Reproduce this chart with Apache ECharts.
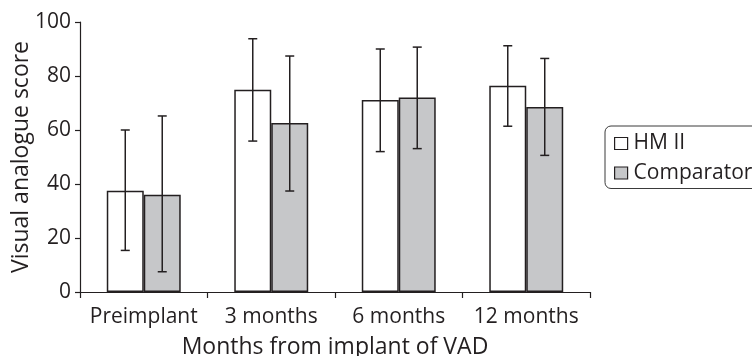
<!DOCTYPE html>
<html>
<head>
<meta charset="utf-8">
<script src="https://cdn.jsdelivr.net/npm/echarts@6/dist/echarts.min.js"></script>
<style>html,body{margin:0;padding:0;background:#fff;}#c{width:752px;height:356px;}</style>
</head>
<body>
<div id="c"></div>
<script>
var categories = ['Preimplant', '3 months', '6 months', '12 months'];
var hmValues = [37.5, 74.9, 71.1, 76.4];
var hmLow = [15.4, 55.9, 52.0, 61.4];
var hmHigh = [60.0, 93.8, 90.0, 91.2];
var compValues = [36.0, 62.6, 72.0, 68.5];
var compLow = [7.5, 37.4, 53.1, 50.6];
var compHigh = [65.2, 87.4, 90.7, 86.5];
var yTicks = [0, 20, 40, 60, 80, 100];

var FONT = '"Open Sans", sans-serif';
var TXT = '#231f20';
var BAR_FRAC = 0.29;

function errSeries(low, high, side) {
  var data = low.map(function (l, i) { return [i, l, high[i]]; });
  return {
    type: 'custom',
    silent: true,
    z: 5,
    data: data,
    encode: { x: 0, y: [1, 2] },
    renderItem: function (params, api) {
      var idx = api.value(0);
      var bw = api.size([1, 0])[0] * BAR_FRAC;
      var pLo = api.coord([idx, api.value(1)]);
      var pHi = api.coord([idx, api.value(2)]);
      var x = pLo[0] + side * bw / 2;
      var cap = 4.5;
      var st = { stroke: TXT, lineWidth: 1.5, fill: null };
      return {
        type: 'group',
        children: [
          { type: 'line', shape: { x1: x, y1: pLo[1], x2: x, y2: pHi[1] }, style: st },
          { type: 'line', shape: { x1: x - cap, y1: pLo[1], x2: x + cap, y2: pLo[1] }, style: st },
          { type: 'line', shape: { x1: x - cap, y1: pHi[1], x2: x + cap, y2: pHi[1] }, style: st }
        ]
      };
    }
  };
}

var chart = echarts.init(document.getElementById('c'), null, { renderer: 'canvas' });
chart.setOption({
  animation: false,
  backgroundColor: '#fff',
  grid: { left: 80, right: 162, top: 22, bottom: 64, containLabel: false, outerBoundsMode: 'none' },
  legend: {
    left: 605, top: 126,
    orient: 'vertical',
    itemWidth: 13, itemHeight: 12, itemGap: 8.5,
    padding: [7, 40, 5, 9],
    borderColor: '#3a3a3a', borderWidth: 1, borderRadius: 6,
    textStyle: { fontFamily: FONT, fontSize: 21, color: TXT, padding: [0, 0, 0, 1] },
    data: [
      { name: 'HM II', icon: 'rect', itemStyle: { color: '#fff', borderColor: TXT, borderWidth: 1.2 } },
      { name: 'Comparator', icon: 'rect', itemStyle: { color: '#c6c7c9', borderColor: TXT, borderWidth: 1.2 } }
    ]
  },
  xAxis: {
    type: 'category',
    data: categories,
    name: 'Months from implant of VAD',
    nameLocation: 'middle',
    nameGap: 44,
    nameMoveOverlap: false,
    nameTextStyle: { fontFamily: FONT, fontSize: 23, color: TXT },
    axisLine: { lineStyle: { color: TXT, width: 1.2 } },
    axisTick: { show: true, length: 6, lineStyle: { color: TXT, width: 1.2 } },
    axisLabel: { fontFamily: FONT, fontSize: 21, color: TXT, margin: 15, interval: 0 },
    splitLine: { show: false }
  },
  yAxis: {
    type: 'value',
    min: 0, max: 100, interval: 20,
    name: 'Visual analogue score',
    nameLocation: 'middle',
    nameGap: 47,
    nameMoveOverlap: false,
    nameTextStyle: { fontFamily: FONT, fontSize: 23, color: TXT },
    axisLine: { show: true, lineStyle: { color: TXT, width: 1.2 } },
    axisTick: { show: true, length: 5, lineStyle: { color: TXT, width: 1.2 } },
    axisLabel: {
      fontFamily: FONT, fontSize: 21, color: TXT, margin: 9,
      formatter: function (v) { return yTicks.indexOf(v) >= 0 ? String(v) : ''; }
    },
    splitLine: { show: false }
  },
  series: [
    {
      name: 'HM II', type: 'bar', data: hmValues,
      barWidth: (BAR_FRAC * 100) + '%', barGap: '0%',
      itemStyle: { color: '#fff', borderColor: TXT, borderWidth: 1.5 }
    },
    {
      name: 'Comparator', type: 'bar', data: compValues,
      barWidth: (BAR_FRAC * 100) + '%', barGap: '0%',
      itemStyle: { color: '#c6c7c9', borderColor: TXT, borderWidth: 1.5 }
    },
    errSeries(hmLow, hmHigh, -1),
    errSeries(compLow, compHigh, 1)
  ]
});
</script>
</body>
</html>
